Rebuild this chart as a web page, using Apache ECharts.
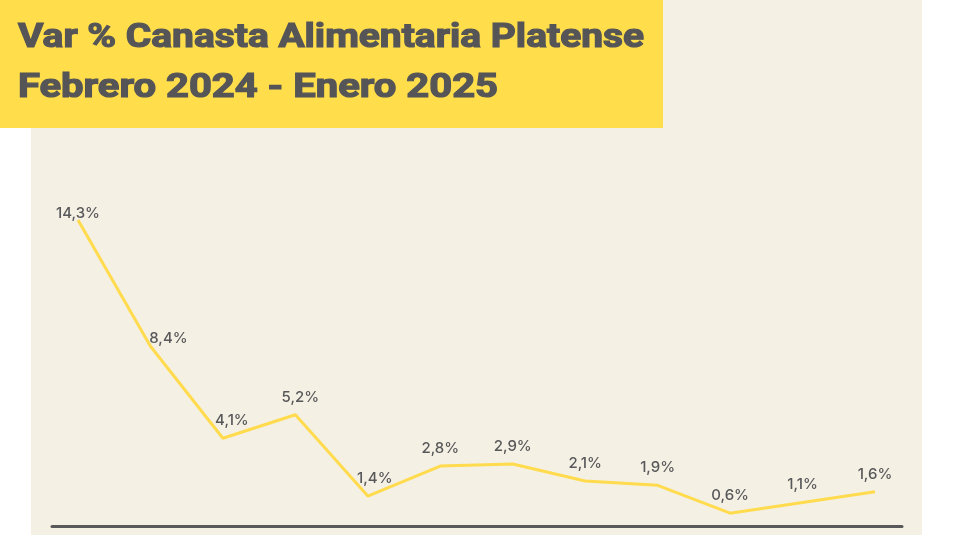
<!DOCTYPE html>
<html><head><meta charset="utf-8">
<script src="https://cdn.jsdelivr.net/npm/echarts@6/dist/echarts.min.js"></script>
<style>html,body{margin:0;padding:0;background:#fff}#c{width:953px;height:535px}</style>
</head><body><div id="c"></div>
<script>
const categories = ['Feb 2024','Mar 2024','Abr 2024','May 2024','Jun 2024','Jul 2024','Ago 2024','Sep 2024','Oct 2024','Nov 2024','Dic 2024','Ene 2025'];
const values = [14.3, 8.4, 4.1, 5.2, 1.4, 2.8, 2.9, 2.1, 1.9, 0.6, 1.1, 1.6];
const titleLines = ['Var % Canasta Alimentaria Platense', 'Febrero 2024 - Enero 2025'];
const labelShift = [[0,11],[18,10],[9,0],[5,0],[7,0],[0,0],[0,0],[0,0],[0,0],[0,0],[0,0],[0,0]];

const titleFont = "bold 33px Roboto";
const cv = document.createElement('canvas').getContext('2d');
cv.font = titleFont;
const sx1 = 626 / cv.measureText(titleLines[0]).width;
const sx2 = 480 / cv.measureText(titleLines[1]).width;

const chart = echarts.init(document.getElementById('c'));
chart.setOption({
  animation: false,
  backgroundColor: '#ffffff',
  graphic: [
    {type:'rect', z:-10, shape:{x:31,y:0,width:891,height:535}, style:{fill:'#F4F0E4'}},
    {type:'rect', z:-5, shape:{x:0,y:0,width:663,height:128}, style:{fill:'#FFDD4B'}},
    {type:'text', x:18, y:39, scaleX:sx1, style:{text:titleLines[0], font:titleFont, fill:'#555557', stroke:'#555557', lineWidth:1.2, verticalAlign:'middle'}},
    {type:'text', x:18, y:89, scaleX:sx2, style:{text:titleLines[1], font:titleFont, fill:'#555557', stroke:'#555557', lineWidth:1.2, verticalAlign:'middle'}}
  ],
  grid: [
    {left:78, right:78, top:220, bottom:9},
    {left:52, right:51, top:220, bottom:9}
  ],
  xAxis: [
    {type:'category', gridIndex:0, data:categories, boundaryGap:false, axisLine:{show:false}, axisTick:{show:false}, axisLabel:{show:false}},
    {type:'value', gridIndex:1, min:0, max:1, offset:3, axisLine:{show:true, lineStyle:{color:'#59595B', width:3}}, axisTick:{show:false}, axisLabel:{show:false}, splitLine:{show:false}}
  ],
  yAxis: [
    {type:'value', gridIndex:0, min:0, max:14.3, show:false},
    {type:'value', gridIndex:1, min:0, max:1, show:false}
  ],
  series: [{
    type:'line', xAxisIndex:0, yAxisIndex:0,
    data: values.map((v,i)=>({value:v, label:{offset:labelShift[i]}})),
    symbol:'circle', symbolSize:2, showSymbol:true,
    itemStyle:{color:'rgba(0,0,0,0)', borderWidth:0},
    lineStyle:{color:'#FFDB4D', width:3},
    label:{show:true, position:'top', distance:9, formatter:p=>String(p.value).replace('.',',')+'%',
      fontFamily:'Inter', fontWeight:500, fontSize:15, color:'#58585A'}
  }]
});
</script></body></html>
